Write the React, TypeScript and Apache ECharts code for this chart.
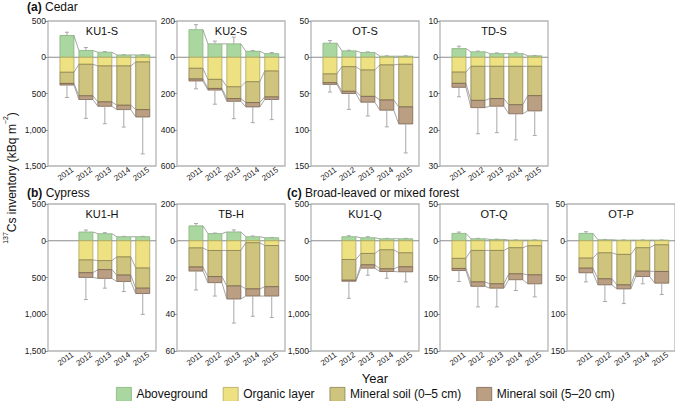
import React, { useEffect, useRef } from "react";
import * as echarts from "echarts";

// ---------- data ----------
const years = [2011, 2012, 2013, 2014, 2015];
const panelNames = ["KU1-S", "KU2-S", "OT-S", "TD-S", "KU1-H", "TB-H", "KU1-Q", "OT-Q", "OT-P"];
const seriesNames = ["Aboveground", "Organic layer", "Mineral soil (0–5 cm)", "Mineral soil (5–20 cm)"];

// y-axis upper limit (positive part); lower limit is three times it
const yMaxes = [500, 200, 50, 10, 500, 20, 500, 50, 50];
// tick labels, top to bottom
const yTickLabels = [
  ["500", "0", "500", "1,000", "1,500"],
  ["200", "0", "200", "400", "600"],
  ["50", "0", "50", "100", "150"],
  ["10", "0", "10", "20", "30"],
  ["500", "0", "500", "1,000", "1,500"],
  ["200", "0", "20", "40", "60"],
  ["500", "0", "500", "1,000", "1,500"],
  ["50", "0", "50", "100", "150"],
  ["50", "0", "50", "100", "150"],
];

// values per panel (rows follow panelNames), per year
const aboveground = [
  [300, 93, 69, 32, 32],
  [152, 74, 74, 33, 20],
  [19.4, 8.8, 6.5, 1.5, 1.5],
  [2.4, 1.5, 1.0, 1.0, 0.4],
  [null, 119, 96, 55, 55],
  [8.1, 3.9, 4.8, 2.2, 1.65],
  [null, 55, 41, 27, 27],
  [10, 2.7, 1.8, 0.9, 0.9],
  [10, 1.4, 0.9, 0.9, 0.9],
];
const abovegroundSD = [
  [45, 41, 9, 3, 3],
  [28, 15, 37, 4, 6],
  [3.6, 0.9, 0.9, 0.5, 0.5],
  [0.65, 0.2, 0.2, 0.4, 0.1],
  [null, 27, 14, 5, 5],
  [1.3, 0.3, 1.1, 0.4, 0.15],
  [null, 13, 14, 5, 5],
  [1.8, 0.5, 0.3, 0.3, 0.3],
  [2.3, 0.4, 0.2, 0.2, 0.2],
];
const organicLayer = [
  [207, 97, 120, 120, 65],
  [61, 122, 163, 135, 76],
  [23, 13, 17.6, 10.6, 9.7],
  [4.1, 2.5, 2.5, 2.5, 2.5],
  [null, 261, 270, 220, 371],
  [3.9, 5.3, 5.3, 1.1, 2.6],
  [null, 255, 173, 123, 164],
  [24, 13.2, 13.2, 9.5, 6.8],
  [23.6, 16.4, 18.6, 9.5, 5.5],
];
const mineral0to5 = [
  [154, 435, 496, 542, 657],
  [59, 50, 65, 115, 143],
  [12, 34, 36.4, 48.4, 58.8],
  [3.1, 9.4, 8.9, 10.6, 8.1],
  [null, 174, 123, 247, 274],
  [10.4, 14.2, 19.3, 25.1, 22.4],
  [null, 282, 155, 259, 191],
  [13.7, 42.8, 45.4, 35.5, 39.6],
  [13.7, 35.4, 41.4, 31.9, 36.3],
];
const mineral5to20 = [
  [23, 51, 60, 60, 102],
  [11, 9, 15, 24, 14],
  [2.5, 3, 8, 14, 23.5],
  [1.1, 2.0, 2.1, 2.5, 4.2],
  [null, 64, 119, 87, 73],
  [2.2, 3.3, 7.1, 3.9, 5.1],
  [null, 14, 45, 37, 68],
  [2.8, 6, 5.9, 8, 12.2],
  [6.3, 8.2, 5.5, 7.2, 15.9],
];
const soilTotalSD = [
  [171, 260, 241, 241, 509],
  [43, 78, 96, 87, 111],
  [10.5, 22, 19, 23, 40],
  [2.6, 7.2, 7.3, 7.2, 6.8],
  [null, 301, 133, 137, 284],
  [10.3, 7.3, 13.1, 11.0, 11.7],
  [null, 232, 96, 91, 137],
  [15, 28, 25.5, 14.7, 17.8],
  [12.4, 22.7, 20, 10, 15.5],
];

// ---------- styles / layout ----------
const FONT = "'Liberation Sans', Arial, Helvetica, sans-serif";
const fills = ["#aad7a0", "#ede182", "#cfc47d", "#bb9f82"];
const borders = ["#86b47e", "#b3a65a", "#8a8250", "#7a6450"];
const panelLeft = [48, 177, 311, 440, 48, 177, 311, 440, 567];
const panelTop = [21, 21, 21, 21, 204, 204, 204, 204, 204];
const panelHeight = [145, 145, 145, 145, 147, 147, 147, 147, 147];
const PANEL_W = 108;
const BAR_W = 14;
const X_MIN = 2010;
const X_MAX = 2015.7;
const LABEL_SHIFT = 0.3;

function levelsAt(p: number, k: number) {
  const ag = aboveground[p][k] as number;
  const o = organicLayer[p][k] as number;
  const m1 = mineral0to5[p][k] as number;
  const m2 = mineral5to20[p][k] as number;
  return [ag, -o, -(o + m1), -(o + m1 + m2)];
}

function buildOption() {
  const grid: any[] = [];
  const xAxis: any[] = [];
  const yAxis: any[] = [];
  const series: any[] = [];
  const graphic: any[] = [];

  panelNames.forEach((name, p) => {
    const yMax = yMaxes[p];
    const yMin = -3 * yMax;
    const labels = yTickLabels[p];
    const valid = years.map((_, i) => aboveground[p][i] !== null);
    grid.push({
      left: panelLeft[p],
      top: panelTop[p],
      width: PANEL_W,
      height: panelHeight[p],
      show: true,
      borderColor: "#b4b4b4",
      borderWidth: 1.3,
      backgroundColor: "transparent",
      containLabel: false,
    });
    xAxis.push({
      type: "value",
      gridIndex: p,
      min: X_MIN,
      max: X_MAX,
      axisLine: { show: false },
      axisTick: { show: false },
      splitLine: { show: false },
      axisLabel: {
        customValues: years.map((y) => y + LABEL_SHIFT),
        formatter: (v: number) => String(Math.round(v)),
        rotate: 35,
        fontSize: 8,
        color: "#222",
        margin: 3,
        fontFamily: FONT,
      },
    });
    yAxis.push({
      type: "value",
      gridIndex: p,
      min: yMin,
      max: yMax,
      interval: yMax,
      axisLine: { show: false },
      axisTick: { show: true, length: 3, lineStyle: { color: "#999", width: 1 } },
      splitLine: { show: false },
      axisLabel: {
        fontSize: 8.5,
        color: "#222",
        margin: 2,
        fontFamily: FONT,
        formatter: (v: number) => {
          const k = Math.round((yMax - v) / yMax);
          return labels[k] ?? "";
        },
      },
    });

    // zero reference line
    series.push({
      type: "custom",
      xAxisIndex: p,
      yAxisIndex: p,
      z: 1,
      silent: true,
      clip: false,
      data: [[X_MIN, 0]],
      renderItem: (params: any, api: any) => {
        const a = api.coord([X_MIN, 0]);
        const b = api.coord([X_MAX, 0]);
        return {
          type: "line",
          shape: { x1: a[0], y1: a[1], x2: b[0], y2: b[1] },
          style: { stroke: "#8c8c8c", lineWidth: 1 },
        };
      },
    });

    // stacked layers (drawn through the axes' scales)
    for (let s = 0; s < 4; s++) {
      const data: any[] = [];
      years.forEach((y, i) => {
        if (!valid[i]) return;
        const lv = levelsAt(p, i);
        let hi: number, lo: number;
        if (s === 0) {
          hi = lv[0];
          lo = 0;
        } else if (s === 1) {
          hi = 0;
          lo = lv[1];
        } else {
          hi = lv[s - 1];
          lo = lv[s];
        }
        data.push([y, hi, lo]);
      });
      series.push({
        name: seriesNames[s],
        type: "custom",
        xAxisIndex: p,
        yAxisIndex: p,
        z: 2,
        silent: true,
        clip: false,
        itemStyle: { color: fills[s], borderColor: borders[s], borderWidth: 0.8 },
        encode: { x: 0, y: [1, 2] },
        data,
        renderItem: (params: any, api: any) => {
          const x = api.value(0);
          const a = api.coord([x, api.value(1)]);
          const b = api.coord([x, api.value(2)]);
          return {
            type: "rect",
            shape: { x: a[0] - BAR_W / 2, y: a[1], width: BAR_W, height: b[1] - a[1] },
            style: { fill: fills[s], stroke: borders[s], lineWidth: 0.8 },
          };
        },
      });
    }

    // error bars + connecting lines
    const customData: any[] = [];
    years.forEach((y, i) => {
      if (valid[i]) customData.push([y, 0, i]);
    });
    series.push({
      type: "custom",
      xAxisIndex: p,
      yAxisIndex: p,
      z: 5,
      silent: true,
      clip: false,
      data: customData,
      encode: { x: 0, y: 1 },
      renderItem: (params: any, api: any) => {
        const i = api.value(2) as number;
        const x = years[i];
        const lv = levelsAt(p, i);
        const children: any[] = [];
        const errStyle = { stroke: "#a8a8a8", lineWidth: 1 };
        const conStyle = { stroke: "#8f8f8f", lineWidth: 0.8 };
        // upper error
        const pA = api.coord([x, lv[0]]);
        const pT = api.coord([x, lv[0] + (abovegroundSD[p][i] as number)]);
        children.push({ type: "line", shape: { x1: pA[0], y1: pA[1], x2: pT[0], y2: pT[1] }, style: errStyle });
        children.push({ type: "line", shape: { x1: pT[0] - 2, y1: pT[1], x2: pT[0] + 2, y2: pT[1] }, style: errStyle });
        // lower error
        const pB = api.coord([x, lv[3]]);
        const pE = api.coord([x, lv[3] - (soilTotalSD[p][i] as number)]);
        children.push({ type: "line", shape: { x1: pB[0], y1: pB[1], x2: pE[0], y2: pE[1] }, style: errStyle });
        children.push({ type: "line", shape: { x1: pE[0] - 2, y1: pE[1], x2: pE[0] + 2, y2: pE[1] }, style: errStyle });
        // connectors to next year
        if (i + 1 < years.length && valid[i + 1]) {
          const ln = levelsAt(p, i + 1);
          for (let k = 0; k < 4; k++) {
            const a = api.coord([x, lv[k]]);
            const b = api.coord([years[i + 1], ln[k]]);
            children.push({
              type: "line",
              shape: { x1: a[0] + BAR_W / 2, y1: a[1], x2: b[0] - BAR_W / 2, y2: b[1] },
              style: conStyle,
            });
          }
        }
        return { type: "group", children };
      },
    });

    graphic.push({
      type: "text",
      x: panelLeft[p] + PANEL_W / 2,
      y: panelTop[p] + 4,
      style: { text: name, align: "center", verticalAlign: "top", fontSize: 11, fill: "#111", fontFamily: FONT },
    });
  });

  const sectionTitle = (text: string, x: number, y: number) => ({
    type: "text",
    x,
    y,
    style: {
      text,
      fontSize: 12,
      fill: "#111",
      fontFamily: FONT,
      rich: { b: { fontWeight: "bold", fontSize: 12, fontFamily: FONT, fill: "#111" } },
    },
  });
  graphic.push(sectionTitle("{b|(a)} Cedar", 27, 1));
  graphic.push(sectionTitle("{b|(b)} Cypress", 27, 187));
  graphic.push(sectionTitle("{b|(c)} Broad-leaved or mixed forest", 287, 187));
  graphic.push({
    type: "text",
    x: 10,
    y: 178,
    rotation: Math.PI / 2,
    style: {
      text: "{s|137}{n|Cs inventory (kBq m}{s|−2}{n|)}",
      align: "center",
      verticalAlign: "middle",
      fill: "#111",
      fontFamily: FONT,
      rich: {
        n: { fontSize: 12, lineHeight: 16, verticalAlign: "bottom", fontFamily: FONT, fill: "#111" },
        s: { fontSize: 7, lineHeight: 16, verticalAlign: "top", fontFamily: FONT, fill: "#111" },
      },
    },
  });
  graphic.push({
    type: "text",
    x: 375,
    y: 372,
    style: { text: "Year", align: "center", verticalAlign: "top", fontSize: 13, fill: "#111", fontFamily: FONT },
  });

  return {
    animation: false,
    textStyle: { fontFamily: FONT },
    grid,
    xAxis,
    yAxis,
    series,
    graphic,
    legend: {
      data: seriesNames,
      left: 111,
      top: 382,
      itemWidth: 15,
      itemHeight: 14,
      itemGap: 15,
      selectedMode: false,
      icon: "rect",
      itemStyle: { borderWidth: 0.8 },
      textStyle: { fontSize: 12, color: "#111", fontFamily: FONT },
    },
  };
}

export default function App() {
  const ref = useRef<HTMLDivElement>(null);
  useEffect(() => {
    if (!ref.current) return;
    const chart = echarts.init(ref.current, undefined, { renderer: "svg" });
    chart.setOption(buildOption() as any);
    return () => chart.dispose();
  }, []);
  return <div ref={ref} style={{ width: 675, height: 401, position: "absolute", left: 0, top: 0 }} />;
}
